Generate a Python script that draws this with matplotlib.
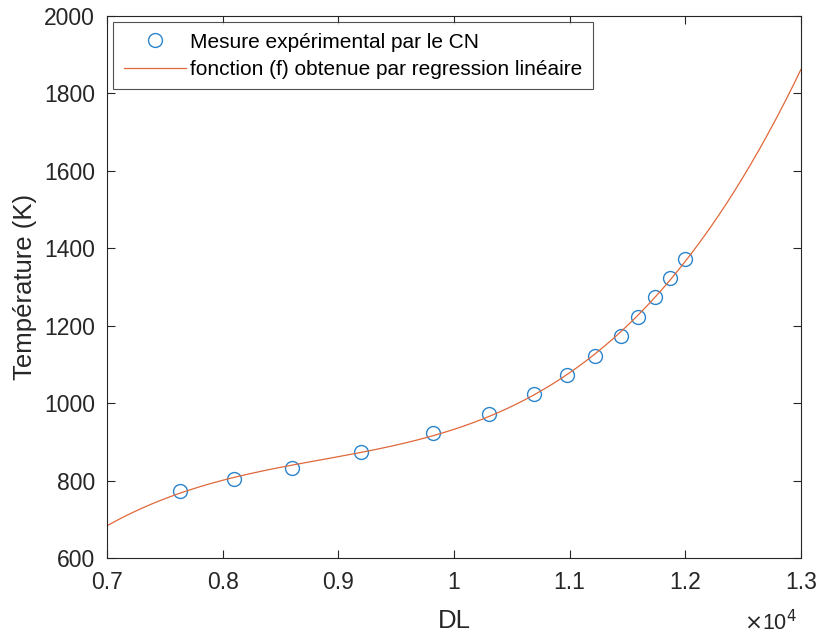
import numpy as np
import matplotlib
matplotlib.use('Agg')
import matplotlib.pyplot as plt

# mesures (DL, température en K)
dl = [7630, 8100, 8600, 9200, 9820, 10300, 10690, 10980, 11220, 11440, 11590, 11740, 11870, 12000]
temp = [773, 803, 833, 873, 923, 973, 1023, 1073, 1123, 1173, 1223, 1273, 1323, 1373]

plt.rcParams['font.family'] = ['Liberation Sans', 'DejaVu Sans']

# regression polynomiale (ordre 3)
fit = np.polynomial.Polynomial.fit(dl, temp, 3)
x_f = np.linspace(7000, 13000, 400)
y_f = fit(x_f)

fig = plt.figure(figsize=(8.19, 6.37), dpi=100)
ax = fig.add_axes([0.1306, 0.124, 0.8474, 0.851])

ax.plot(np.array(dl) / 1e4, temp, 'o', mfc='none', mec='#2a84cc', ms=10, mew=1.0,
        label='Mesure expérimental par le CN')
ax.plot(x_f / 1e4, y_f, '-', color='#e0683a', lw=0.9,
        label='fonction (f) obtenue par regression linéaire')

ax.set_xlim(0.7, 1.3)
ax.set_ylim(600, 2000)
ax.set_xticks([0.7, 0.8, 0.9, 1.0, 1.1, 1.2, 1.3])
ax.set_xticklabels(['0.7', '0.8', '0.9', '1', '1.1', '1.2', '1.3'])
ax.set_yticks(range(600, 2001, 200))
ax.tick_params(direction='in', top=True, right=True, colors='#262626', labelcolor='#262626',
               length=6, width=0.8, labelsize=16.5)
ax.tick_params(axis='x', pad=9)
ax.tick_params(axis='y', pad=8.5)
for s in ax.spines.values():
    s.set_color('#262626')
    s.set_linewidth(0.8)

ax.set_xlabel('DL', fontsize=18.5, color='#262626', labelpad=11)
ax.set_ylabel('Température (K)', fontsize=18.5, color='#262626', labelpad=5)
fig.text(797 / 819, 0.011, r'$\times$10$^4$', ha='right', va='baseline', fontsize=15.5, color='#262626')

leg = ax.legend(loc='upper left', fontsize=15, frameon=True, fancybox=False,
                edgecolor='#262626', borderaxespad=0.3, borderpad=0.5,
                handlelength=3.0, handletextpad=0.2, labelspacing=0.4)
leg.get_frame().set_linewidth(0.8)

plt.savefig('out.png', dpi=100)
